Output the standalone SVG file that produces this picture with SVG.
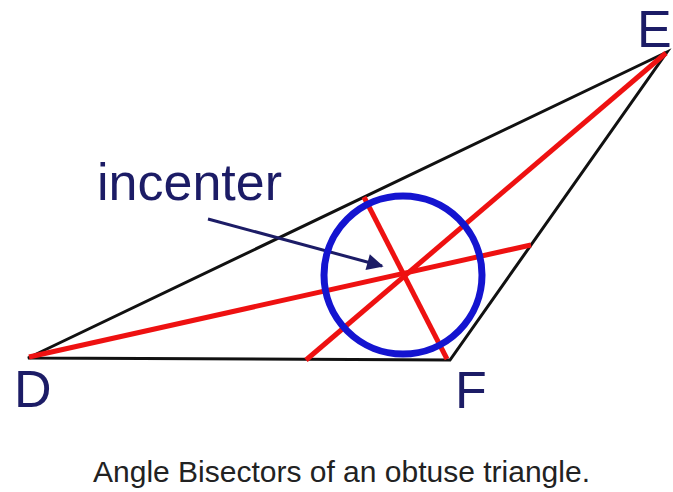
<svg xmlns="http://www.w3.org/2000/svg" width="673" height="492" viewBox="0 0 673 492">
<defs>
<style>
.label{font-family:"Liberation Sans",Arial,sans-serif;fill:#1c1c66}
.tri{stroke:#111;stroke-width:3;fill:none;stroke-linejoin:miter}
.bis{stroke:#ee1111;stroke-width:5;stroke-linecap:butt}
.cap{font-family:"Liberation Sans",Arial,sans-serif;font-size:30px;fill:#222}
</style>
<marker id="ah" viewBox="0 0 10 10" refX="9" refY="5" markerWidth="7" markerHeight="5.5" markerUnits="strokeWidth" orient="auto">
<path d="M0,0 L10,5 L0,10 z" fill="#1c1c66"/>
</marker>
</defs>
<rect width="673" height="492" fill="#fff"/>
<g id="triangle">
<polygon class="tri" points="28,358 667,52 450,360"/>
</g>
<g id="connectors">
<line class="bis" x1="666" y1="53" x2="306" y2="360"/>
<line class="bis" x1="29" y1="357" x2="531" y2="245"/>
<line class="bis" x1="447" y1="359" x2="364" y2="197"/>
<line x1="208" y1="219" x2="382" y2="266" stroke="#1c1c66" stroke-width="3" marker-end="url(#ah)"/>
</g>
<g id="incircle">
<circle cx="403" cy="275" r="79" fill="none" stroke="#1414d0" stroke-width="7"/>
</g>
<g id="label-E"><text class="label" x="637" y="47" font-size="52">E</text></g>
<g id="label-D"><text class="label" x="14" y="407" font-size="52">D</text></g>
<g id="label-F"><text class="label" x="455" y="408" font-size="52">F</text></g>
<g id="label-incenter"><text class="label" x="97" y="200" font-size="52" textLength="185">incenter</text></g>
<g id="caption"><text class="cap" x="93" y="482">Angle Bisectors of an obtuse triangle.</text></g>
</svg>
